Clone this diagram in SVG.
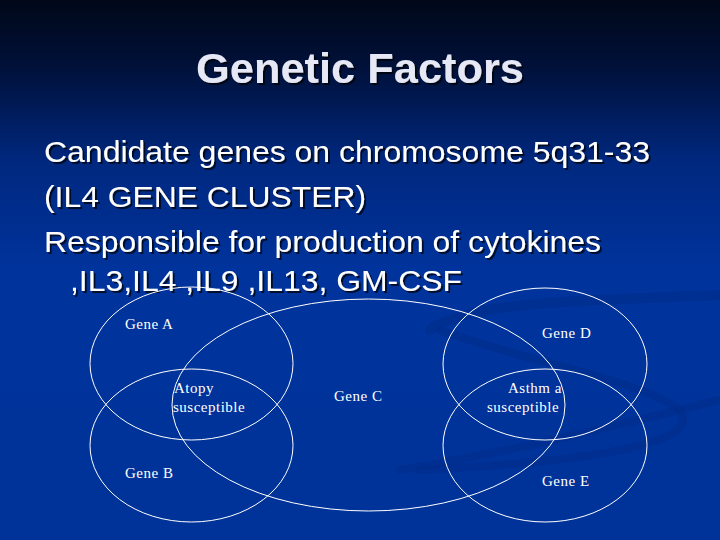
<svg xmlns="http://www.w3.org/2000/svg" width="720" height="540" viewBox="0 0 720 540">
<defs>
<linearGradient id="bg" x1="0" y1="0" x2="0" y2="1">
<stop offset="0" stop-color="#000818"/>
<stop offset="0.12" stop-color="#001038"/>
<stop offset="0.3" stop-color="#00287f"/>
<stop offset="0.5" stop-color="#00339c"/>
<stop offset="1" stop-color="#003399"/>
</linearGradient>
<filter id="sh" x="-5%" y="-20%" width="110%" height="140%">
<feDropShadow dx="2" dy="2" stdDeviation="0.6" flood-color="#000000" flood-opacity="0.7"/>
</filter>
</defs>
<style>
.title{font-family:"Liberation Sans",Arial,sans-serif;font-weight:bold;font-size:43px;fill:#e6e8f6}
.body{font-family:"Liberation Sans",Arial,sans-serif;font-size:29px;fill:#ffffff}
.lbl{font-family:"Liberation Serif","Times New Roman",serif;font-size:15px;fill:#ffffff;letter-spacing:0.5px}
.ell{fill:none;stroke:#ffffff;stroke-width:1}
.sw{fill:none;stroke:#002a88;stroke-linecap:round;opacity:0.45}
</style>
<rect width="720" height="540" fill="url(#bg)"/>
<g id="swooshes">
<path class="sw" stroke-width="10" d="M430 330 C470 300 600 300 720 295"/>
<path class="sw" stroke-width="8" d="M440 330 C520 360 640 380 680 410 C700 440 620 460 420 470"/>
<path class="sw" stroke-width="8" d="M400 470 C520 450 640 420 720 400"/>
</g>
<text class="title" x="360" y="83" text-anchor="middle" textLength="328" lengthAdjust="spacingAndGlyphs" filter="url(#sh)">Genetic Factors</text>
<g filter="url(#sh)">
<text class="body" x="44" y="162" textLength="606" lengthAdjust="spacingAndGlyphs">Candidate genes on chromosome 5q31-33</text>
<text class="body" x="44" y="207" textLength="322" lengthAdjust="spacingAndGlyphs">(IL4 GENE CLUSTER)</text>
<text class="body" x="44" y="252" textLength="557" lengthAdjust="spacingAndGlyphs">Responsible for production of cytokines</text>
<text class="body" x="70" y="291" textLength="392" lengthAdjust="spacingAndGlyphs">,IL3,IL4 ,IL9 ,IL13, GM-CSF</text>
</g>
<g id="connectors"></g>
<g id="geneA"><ellipse class="ell" cx="191.5" cy="363.5" rx="101.5" ry="76.5"/><text class="lbl" x="125" y="329">Gene A</text></g>
<g id="geneB"><ellipse class="ell" cx="191.5" cy="445.5" rx="101.5" ry="76.5"/><text class="lbl" x="125" y="478">Gene B</text></g>
<g id="geneC"><ellipse class="ell" cx="368.5" cy="405" rx="196.5" ry="106"/><text class="lbl" x="334" y="401">Gene C</text></g>
<g id="geneD"><ellipse class="ell" cx="545" cy="364" rx="102" ry="76"/><text class="lbl" x="542" y="338">Gene D</text></g>
<g id="geneE"><ellipse class="ell" cx="545" cy="445.5" rx="102" ry="76.5"/><text class="lbl" x="542" y="486">Gene E</text></g>
<g id="atopy"><text class="lbl" x="174" y="393">Atopy</text><text class="lbl" x="173" y="412">susceptible</text></g>
<g id="asthma"><text class="lbl" x="508" y="393" letter-spacing="0">Asthm a</text><text class="lbl" x="487" y="412">susceptible</text></g>
</svg>
